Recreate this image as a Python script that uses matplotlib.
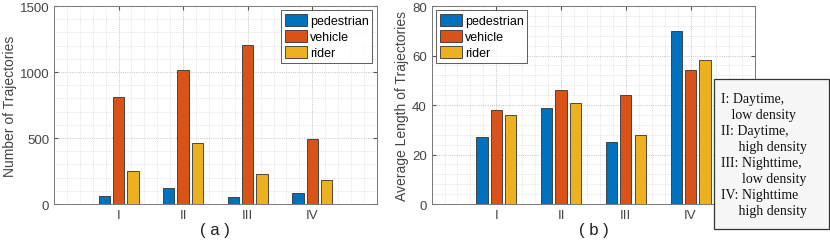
import matplotlib
matplotlib.use('Agg')
import matplotlib.pyplot as plt
import numpy as np
from matplotlib.patches import Rectangle
from matplotlib.ticker import MultipleLocator

plt.rcParams['font.family'] = ['Liberation Sans', 'DejaVu Sans']

categories = ['I', 'II', 'III', 'IV']
series = ['pedestrian', 'vehicle', 'rider']
colors = ['#0072BD', '#D95319', '#EDB120']

count_ped = [60, 120, 52, 87]
count_veh = [808, 1013, 1205, 492]
count_rid = [252, 464, 230, 186]

len_ped = [27, 39, 25, 70]
len_veh = [38, 46, 44, 54]
len_rid = [36, 41, 28, 58]

note_lines = ['I: Daytime,', '   low density', 'II: Daytime,', '     high density',
              'III: Nighttime,', '      low density', 'IV: Nighttime', '     high density']

fig = plt.figure(figsize=(8.3, 2.51), dpi=100)
ax1 = fig.add_axes([0.065, 0.183, 0.389, 0.789])
ax2 = fig.add_axes([0.520, 0.183, 0.390, 0.789])

x = np.arange(1, len(categories) + 1)
w = 0.175
off = 0.222
gray = '#555555'


def draw(ax, data, ymax, ystep, yminor, ylabel, loc, sub):
    for i, (vals, c) in enumerate(zip(data, colors)):
        ax.bar(x + (i - 1) * off, vals, w, color=c, edgecolor='#333333',
               linewidth=0.6, label=series[i], zorder=3)
    ax.set_xlim(0, 5)
    ax.set_ylim(0, ymax)
    ax.set_xticks(x)
    ax.set_xticklabels(categories)
    ax.yaxis.set_major_locator(MultipleLocator(ystep))
    ax.yaxis.set_minor_locator(MultipleLocator(yminor))
    ax.xaxis.set_minor_locator(MultipleLocator(0.2))
    ax.grid(True, which='major', linestyle=':', color='#b0b0b0', linewidth=0.6, zorder=0)
    ax.grid(True, which='minor', linestyle=':', color='#d0d0d0', linewidth=0.5, zorder=0)
    ax.tick_params(which='both', direction='in', labelsize=9.5, colors=gray,
                   labelcolor='#444444')
    ax.tick_params(which='minor', length=0)
    ax.tick_params(which='major', length=3, top=True, right=True)
    for s in ax.spines.values():
        s.set_color('#777777')
        s.set_linewidth(0.7)
    ax.set_ylabel(ylabel, fontsize=10, color='#444444', labelpad=2)
    ax.set_xlabel(sub, fontsize=12, color='#222222', labelpad=1)
    leg = ax.legend(loc=loc, fontsize=9, frameon=True, fancybox=False,
                    handlelength=1.8, handleheight=1.1, handletextpad=0.2,
                    borderpad=0.3, labelspacing=0.22, borderaxespad=0.35)
    leg.get_frame().set_edgecolor('#333333')
    leg.get_frame().set_linewidth(0.7)


draw(ax1, [count_ped, count_veh, count_rid], 1500, 500, 100,
     'Number of Trajectories', 'upper right', '( a )')
draw(ax2, [len_ped, len_veh, len_rid], 80, 20, 4,
     'Average Length of Trajectories', 'upper left', '( b )')

box = Rectangle((714 / 830, 1 - 230 / 251), 115 / 830, 150 / 251,
                transform=fig.transFigure, facecolor='#f7f7f7',
                edgecolor='#333333', linewidth=0.9, zorder=10)
fig.patches.append(box)
fig.text(721 / 830, 1 - 156 / 251, '\n'.join(note_lines), fontsize=10,
         family='Liberation Serif', va='center', ha='left',
         linespacing=1.3, color='#111111', zorder=11)

fig.savefig('out.png', dpi=100)
